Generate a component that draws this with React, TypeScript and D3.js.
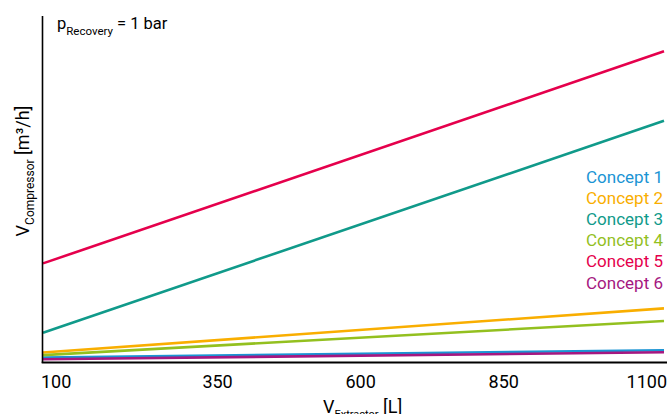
import React from "react";
import * as d3 from "d3";

const concepts = ["Concept 1", "Concept 2", "Concept 3", "Concept 4", "Concept 5", "Concept 6"];
const colors = ["#1a94d4", "#f9ae00", "#109a8a", "#93c01f", "#e5004c", "#a51780"];
const extractorVolumes = [45, 1130];
const compressorStart = [13, 27.5, 84.7, 20, 285, 8];
const compressorEnd = [34, 155, 697, 118.5, 898, 28];
const xTicks = [100, 350, 600, 850, 1100];

const W = 667;
const H = 414;
const margin = { left: 43, right: 3, top: 16, bottom: 52 };
const FONT = "Roboto, 'Noto Sans', sans-serif";

export default function App() {
  const x = d3.scaleLinear().domain([extractorVolumes[0], extractorVolumes[1]]).range([margin.left, W - margin.right]);
  const y = d3.scaleLinear().domain([0, 1000]).range([H - margin.bottom, margin.top]);
  const line = d3
    .line<[number, number]>()
    .x((d) => x(d[0]))
    .y((d) => y(d[1]));
  const axisY = H - margin.bottom;

  return (
    <svg width={W} height={H} style={{ position: "absolute", left: 0, top: 0, background: "#fff" }} fontFamily={FONT}>
      {concepts.map((c, i) => (
        <path
          key={c}
          d={line([
            [extractorVolumes[0], compressorStart[i]],
            [extractorVolumes[1], compressorEnd[i]],
          ]) || ""}
          fill="none"
          stroke={colors[i]}
          strokeWidth={2.6}
        />
      ))}
      <line x1={margin.left - 0.5} x2={margin.left - 0.5} y1={margin.top} y2={axisY + 1} stroke="#000" strokeWidth={1.6} />
      <line x1={margin.left - 1.3} x2={W} y1={axisY + 0.5} y2={axisY + 0.5} stroke="#000" strokeWidth={2} />
      {xTicks.map((t, i) => (
        <text
          key={t}
          x={i === 0 ? margin.left - 2 : x(t)}
          y={388}
          fontSize={18}
          textAnchor={i === 0 ? "start" : "middle"}
          fill="#000"
        >
          {t}
        </text>
      ))}
      <text x={(x(600) ?? 0) + 2} y={413} textAnchor="middle" fill="#000" fontSize={18}>
        <tspan>V</tspan>
        <tspan fontSize={11} dy={5}>Extractor</tspan>
        <tspan dy={-5}> [L]</tspan>
      </text>
      <text transform={`translate(29, 171) rotate(-90)`} textAnchor="middle" fill="#000" fontSize={18}>
        <tspan>V</tspan>
        <tspan fontSize={12} dy={5}>Compressor</tspan>
        <tspan dy={-5}> [m³/h]</tspan>
      </text>
      <text x={57} y={29} fill="#000" fontSize={16.5}>
        <tspan>p</tspan>
        <tspan fontSize={11.5} dy={5.5}>Recovery</tspan>
        <tspan dy={-5.5}> = 1 bar</tspan>
      </text>
      {concepts.map((c, i) => (
        <text key={c} x={663} y={183 + i * 21.1} textAnchor="end" fontSize={17} fill={colors[i]}>
          {c}
        </text>
      ))}
    </svg>
  );
}
